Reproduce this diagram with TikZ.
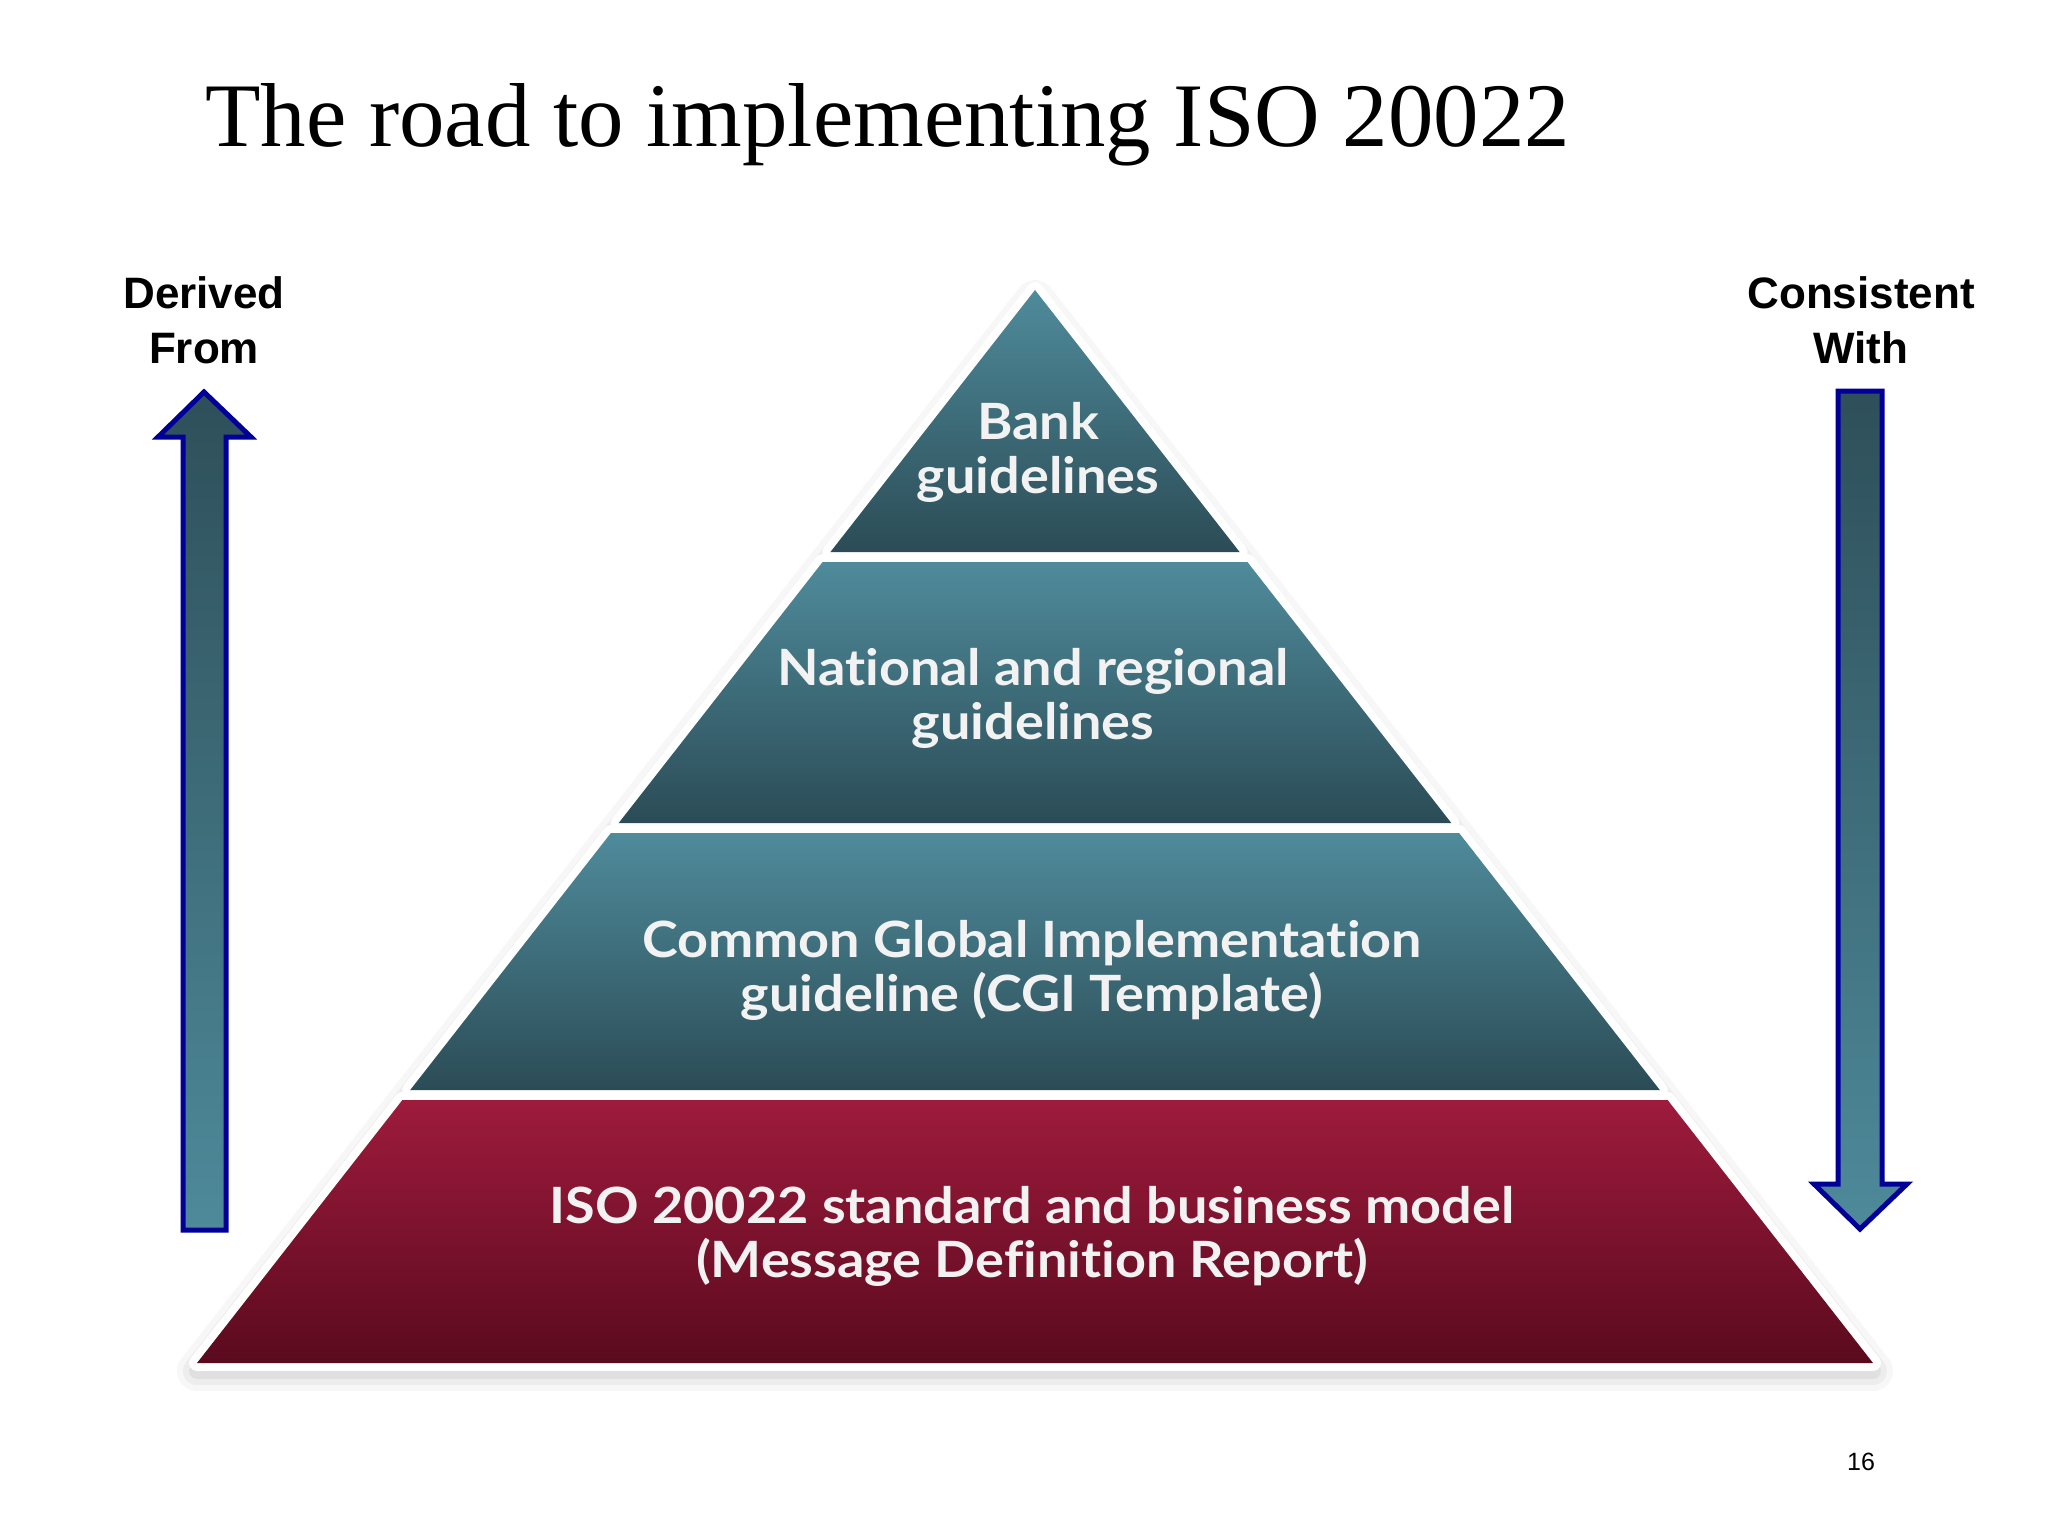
\documentclass[tikz,border=0pt]{standalone}
\usepackage{fontspec}
\setmainfont{Liberation Serif}
\newfontfamily\arialfont{Liberation Sans}
\newfontfamily\tierfont{Lato}[Ligatures=NoCommon, FakeStretch=1.08]
\usepackage{tikz}
\usetikzlibrary{positioning}
\definecolor{tealtop}{HTML}{4F8B9B}
\definecolor{tealbot}{HTML}{2B4C56}
\definecolor{redtop}{HTML}{9E1B3D}
\definecolor{redbot}{HTML}{5A0A1E}
\definecolor{arrowdark}{HTML}{2E4F59}
\definecolor{arrowlight}{HTML}{4E8A9A}
\definecolor{arrowline}{HTML}{000099}
\definecolor{labeltext}{HTML}{F2F2F2}
\tikzstyle{tier} = [top color=tealtop, bottom color=tealbot]
\tikzstyle{basetier} = [top color=redtop, bottom color=redbot]
\tikzstyle{rim} = [draw=white, line width=8pt, line join=round]
\tikzstyle{bigarrow} = [draw=arrowline, line width=2.5pt, top color=arrowdark, bottom color=arrowlight]
\tikzstyle{tierlabel} = [align=center, text=labeltext, font=\tierfont\bfseries\fontsize{25pt}{27pt}\selectfont]
\tikzstyle{sidelabel} = [align=center, font=\arialfont\bfseries\fontsize{22pt}{27.5pt}\selectfont]

\begin{document}
\begin{tikzpicture}[x=0.5pt, y=-0.5pt]
    \useasboundingbox[fill=white] (0,0) rectangle (2048,1536);

    % Title
    \node[anchor=base west, inner sep=0pt, font=\fontsize{45.4pt}{54pt}\selectfont] (title) at (205,147) {The road to implementing ISO 20022};

    % Shadow
    \foreach \w/\o in {20/0.03, 14/0.04, 8/0.05}
        \filldraw[black, opacity=\o, line width=\w pt, line join=round, shift={(0,8)}] (1035,292) -- (1873,1363) -- (197,1363) -- cycle;

    % Tiers (white rims first)
    \draw[rim] (1035,290) -- (1239.6,552) -- (830.4,552) -- cycle;
    \draw[rim] (822.6,562) -- (1247.4,562) -- (1451.3,823) -- (618.7,823) -- cycle;
    \draw[rim] (610.9,833) -- (1459.1,833) -- (1659.8,1090) -- (410.2,1090) -- cycle;
    \draw[rim] (402.4,1100) -- (1667.6,1100) -- (1873,1363) -- (197,1363) -- cycle;
    \path[tier] (1035,290) -- (1239.6,552) -- (830.4,552) -- cycle;
    \path[tier] (822.6,562) -- (1247.4,562) -- (1451.3,823) -- (618.7,823) -- cycle;
    \path[tier] (610.9,833) -- (1459.1,833) -- (1659.8,1090) -- (410.2,1090) -- cycle;
    \path[basetier] (402.4,1100) -- (1667.6,1100) -- (1873,1363) -- (197,1363) -- cycle;

    % Tier labels
    \node[tierlabel] (bank) at (1038,452) {Bank\\guidelines};
    \node[tierlabel] (national) at (1033,698) {National and regional\\guidelines};
    \node[tierlabel] (cgi) at (1032,970) {Common Global Implementation\\guideline (CGI Template)};
    \node[tierlabel] (iso) at (1032,1236) {ISO 20022 standard and business model\\(Message Definition Report)};

    % Side arrows
    \filldraw[bigarrow] (204,392) -- (251,437) -- (226,437) -- (226,1230) -- (183,1230) -- (183,437) -- (158,437) -- cycle;
    \filldraw[bigarrow] (1838,391) -- (1882,391) -- (1882,1184) -- (1907,1184) -- (1860,1229) -- (1814,1184) -- (1838,1184) -- cycle;
    \node[sidelabel] (derived) at (204,320) {Derived\\From};
    \node[sidelabel] (consistent) at (1861,320) {Consistent\\With};

    % Page number
    \node[anchor=base, font=\arialfont\fontsize{12.5pt}{15pt}\selectfont] (pagenum) at (1861,1470) {16};
\end{tikzpicture}
\end{document}
